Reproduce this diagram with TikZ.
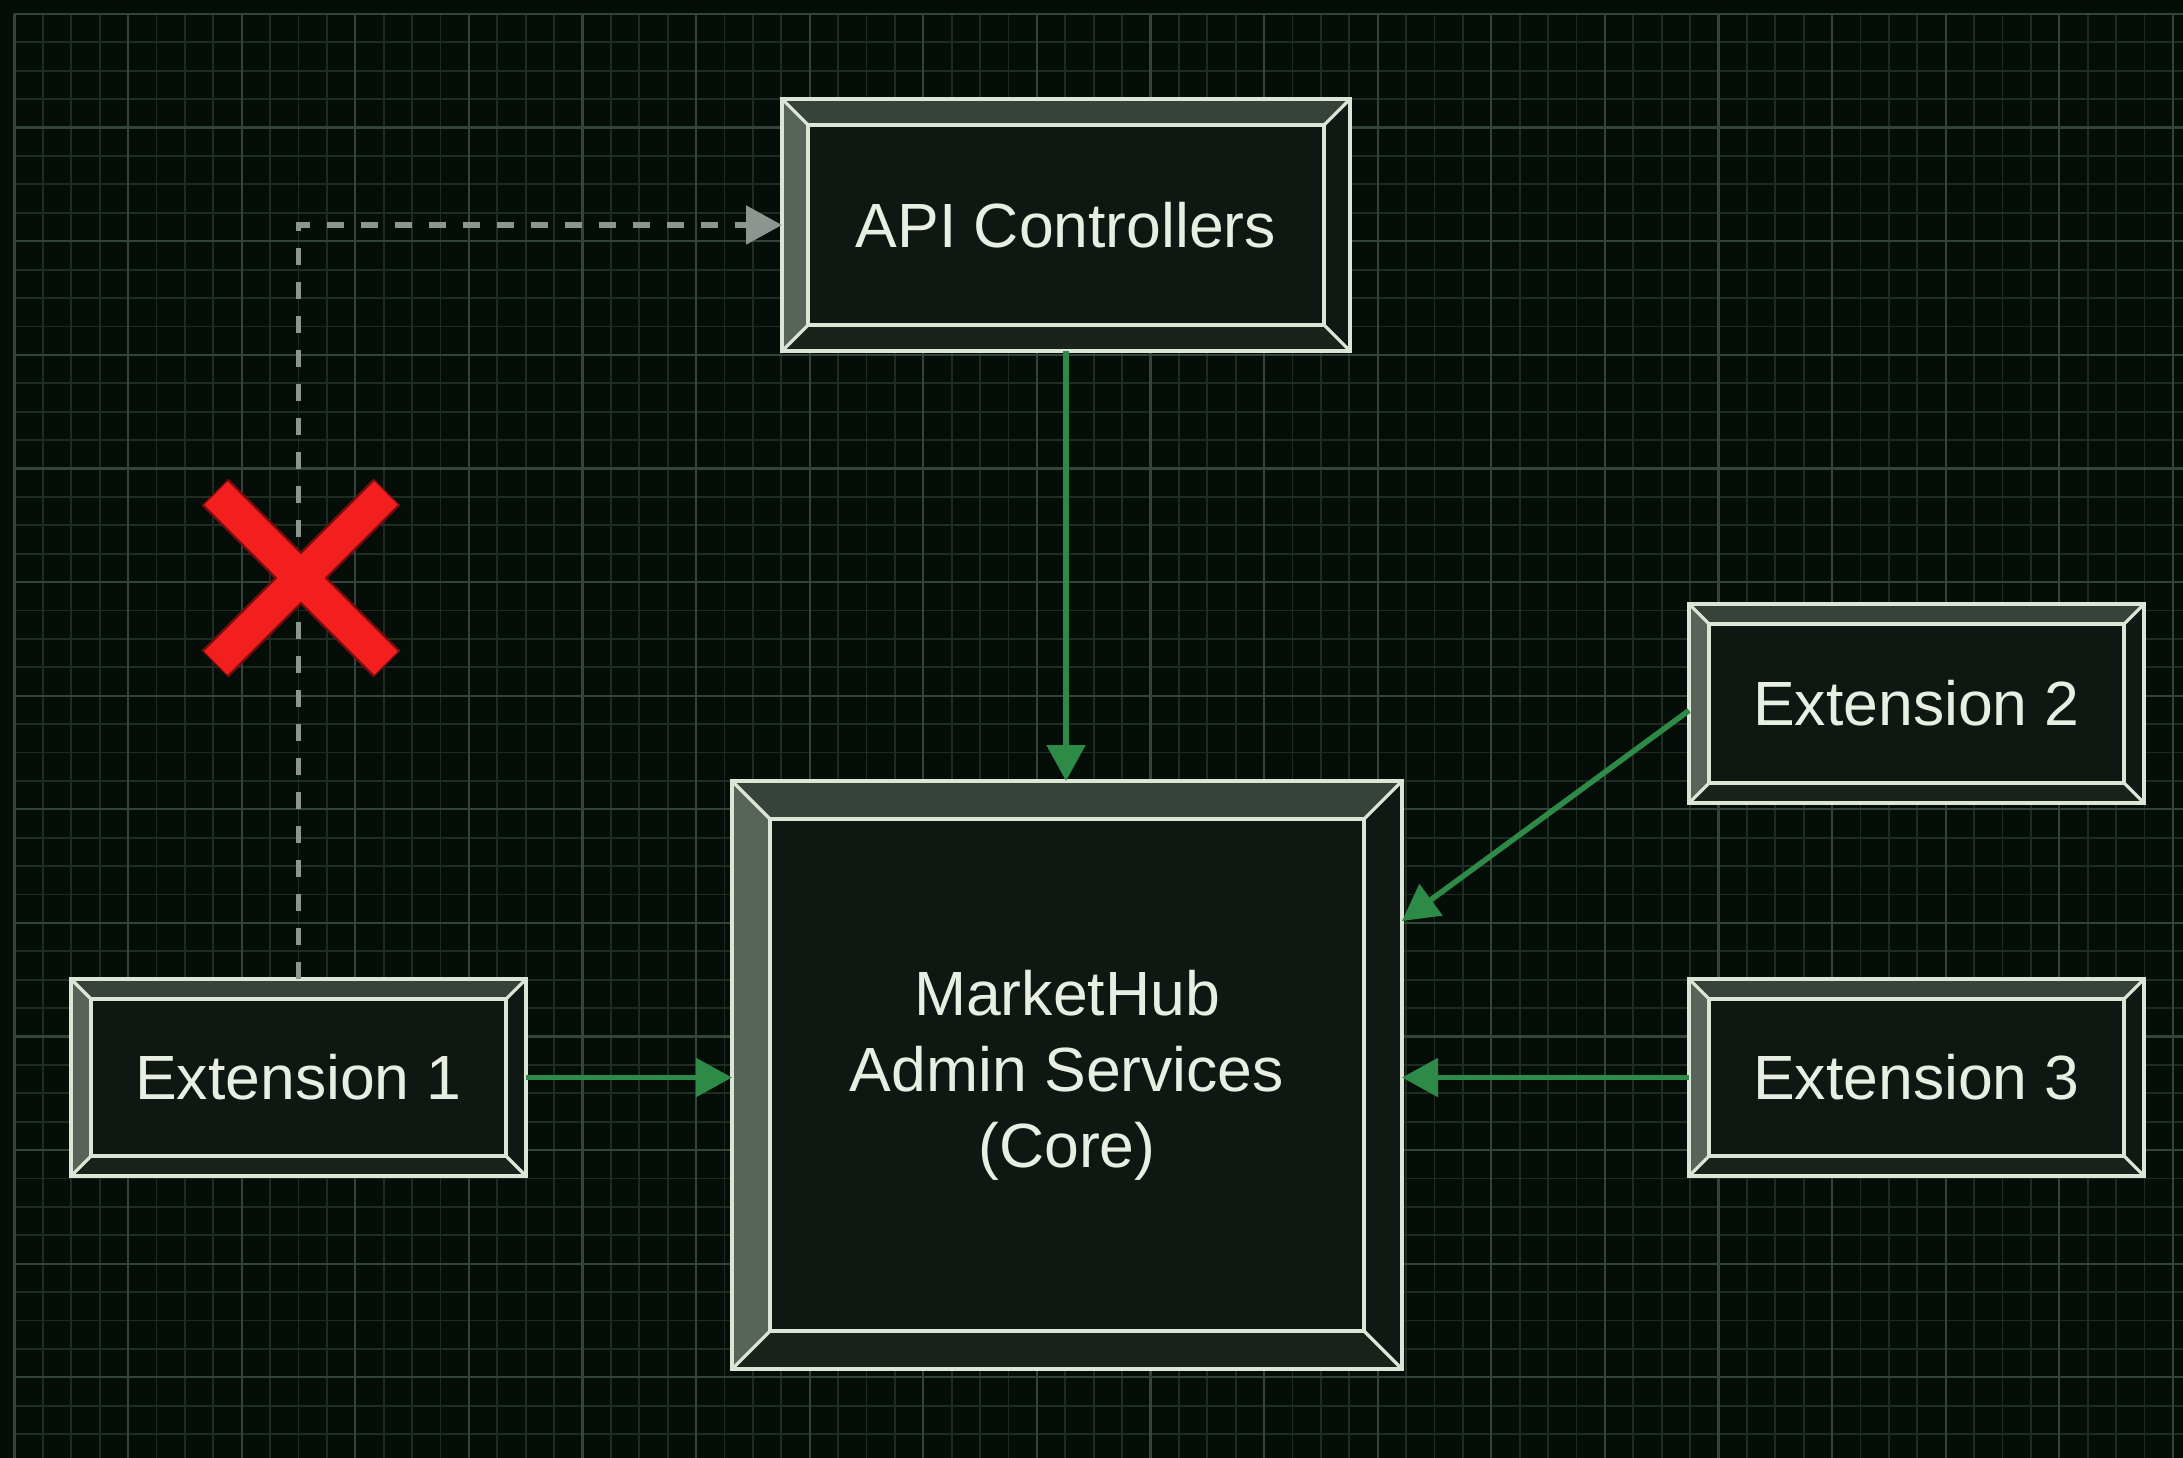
\documentclass[tikz,border=0pt]{standalone}
\usepackage{fontspec}
\setmainfont{Liberation Sans}
\usetikzlibrary{arrows.meta,calc}
\definecolor{bg}{HTML}{050D08}
\definecolor{gminor}{HTML}{1E2C22}
\definecolor{gmajor}{HTML}{34443A}
\definecolor{face}{HTML}{0E1711}
\definecolor{bevL}{HTML}{58645A}
\definecolor{bevT}{HTML}{36423A}
\definecolor{bevR}{HTML}{121915}
\definecolor{bevB}{HTML}{1A221C}
\definecolor{edge}{HTML}{DCE5D6}
\definecolor{txt}{HTML}{E8EEE2}
\definecolor{grn}{HTML}{2E8A47}
\definecolor{dash}{HTML}{8C968E}
\definecolor{xred}{HTML}{F31E1E}
\definecolor{xdark}{HTML}{7A0E0E}
\newcommand\bevelbox[2]{%
  \coordinate (#1-a) at ([xshift=#2pt,yshift=-#2pt]#1.north west);
  \coordinate (#1-b) at ([xshift=-#2pt,yshift=-#2pt]#1.north east);
  \coordinate (#1-c) at ([xshift=-#2pt,yshift=#2pt]#1.south east);
  \coordinate (#1-d) at ([xshift=#2pt,yshift=#2pt]#1.south west);
  \fill[bevL] (#1.north west) -- (#1-a) -- (#1-d) -- (#1.south west) -- cycle;
  \fill[bevT] (#1.north west) -- (#1.north east) -- (#1-b) -- (#1-a) -- cycle;
  \fill[bevR] (#1.north east) -- (#1.south east) -- (#1-c) -- (#1-b) -- cycle;
  \fill[bevB] (#1.south west) -- (#1-d) -- (#1-c) -- (#1.south east) -- cycle;
  \draw[edgeline] (#1-a) rectangle (#1-c);
  \draw[edgeline] (#1.north west) -- (#1-a) (#1.north east) -- (#1-b)
                  (#1.south east) -- (#1-c) (#1.south west) -- (#1-d);
  \draw[edgeline] (#1.north west) rectangle (#1.south east);
}
\begin{document}
\begin{tikzpicture}[x=1pt,y=-1pt,
  gridminor/.style={draw=gminor,line width=1.8pt},
  gridmajor/.style={draw=gmajor,line width=2.2pt},
  box/.style={fill=face,inner sep=0pt,outer sep=0pt,text=txt,
    font=\fontsize{62.5}{76}\selectfont,align=center},
  edgeline/.style={draw=edge,line width=3.2pt,line join=miter},
  flow/.style={draw=grn,line width=5.5pt,-{Triangle[length=36pt,width=38pt]}},
  blocked/.style={draw=dash,line width=5.5pt,dash pattern=on 17pt off 17pt,
    -{Triangle[length=36pt,width=38pt]}},
  xbar/.style={line width=#1,line cap=butt}
]
\useasboundingbox (0,0) rectangle (2183,1458);
\fill[bg] (0,0) rectangle (2183,1458);
% grid
\foreach \i in {0,...,76} \draw[gridminor] ({14.4+28.4*\i},14) -- ({14.4+28.4*\i},1458);
\foreach \j in {0,...,50} \draw[gridminor] (14,{14+28.4*\j}) -- (2183,{14+28.4*\j});
\foreach \i in {0,4,...,76} \draw[gridmajor] ({14.4+28.4*\i},14) -- ({14.4+28.4*\i},1458);
\foreach \j in {0,4,...,50} \draw[gridmajor] (14,{14+28.4*\j}) -- (2183,{14+28.4*\j});

% boxes
\node[box,minimum width=568pt,minimum height=252pt] (api) at (1066,225) {API Controllers};
\bevelbox{api}{26}
\node[box,minimum width=670pt,minimum height=588pt] (core) at (1067,1075)
  {MarketHub\\Admin Services\\(Core)};
\bevelbox{core}{38}
\node[box,minimum width=455pt,minimum height=197pt] (ext1) at (298.5,1077.5) {Extension 1};
\bevelbox{ext1}{20}
\node[box,minimum width=455pt,minimum height=199pt] (ext2) at (1916.5,703.5) {Extension 2};
\bevelbox{ext2}{20}
\node[box,minimum width=455pt,minimum height=197pt] (ext3) at (1916.5,1077.5) {Extension 3};
\bevelbox{ext3}{20}

% connectors
\draw[flow] (api.south) -- (api.south |- core.north);
\draw[flow] (ext1.east) -- (ext1.east -| core.west);
\draw[flow] (ext3.west) -- (ext3.west -| core.east);
\draw[flow] ([yshift=-7pt]ext2.west) -- ([yshift=154pt]core.east);
\draw[blocked] (ext1.north) |- (api.west);

% red cross
\coordinate (xm) at (301,578);
\draw[xdark,xbar=38pt] ($(xm)+(-86,-86)$) -- ($(xm)+(86,86)$);
\draw[xdark,xbar=38pt] ($(xm)+(86,-86)$) -- ($(xm)+(-86,86)$);
\draw[xred,xbar=33pt] ($(xm)+(-85,-85)$) -- ($(xm)+(85,85)$);
\draw[xred,xbar=33pt] ($(xm)+(85,-85)$) -- ($(xm)+(-85,85)$);
\end{tikzpicture}
\end{document}
